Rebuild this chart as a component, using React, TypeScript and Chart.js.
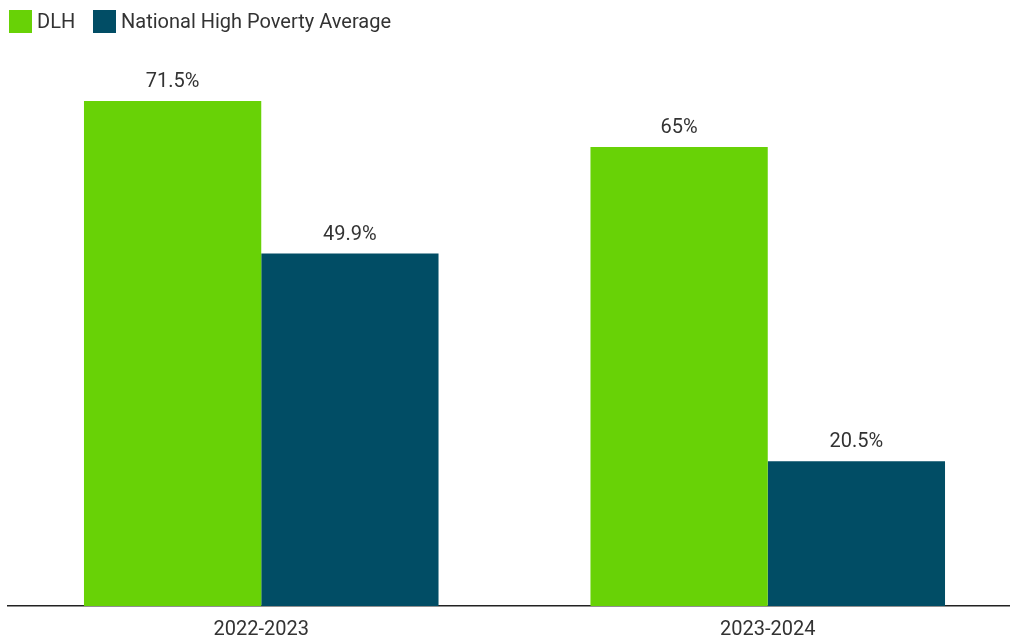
import React, { useEffect, useRef } from "react";
import { Chart, registerables } from "chart.js";

Chart.register(...registerables);

const categories = ["2022-2023", "2023-2024"];
const dlhValues = [71.5, 65];
const nationalValues = [49.9, 20.5];
const seriesNames = ["DLH", "National High Poverty Average"];
const seriesColors = ["#68D206", "#014D65"];
const FONT = "Roboto, 'Noto Sans', sans-serif";

const valueLabels = {
  id: "valueLabels",
  afterDatasetsDraw(chart: any) {
    const ctx = chart.ctx;
    ctx.save();
    ctx.font = `20px ${FONT}`;
    ctx.fillStyle = "#333333";
    ctx.textAlign = "center";
    ctx.textBaseline = "bottom";
    chart.data.datasets.forEach((ds: any, di: number) => {
      const meta = chart.getDatasetMeta(di);
      meta.data.forEach((bar: any, i: number) => {
        const v = ds.data[i];
        ctx.fillText(`${v}%`, bar.x, bar.y - 9);
      });
    });
    ctx.restore();
  },
};

export default function App() {
  const ref = useRef<HTMLCanvasElement>(null);
  useEffect(() => {
    document.body.style.margin = "0";
    document.body.style.overflow = "hidden";
    const chart = new Chart(ref.current!, {
      type: "bar",
      data: {
        labels: categories,
        datasets: [
          { label: seriesNames[0], data: dlhValues, backgroundColor: seriesColors[0] },
          { label: seriesNames[1], data: nationalValues, backgroundColor: seriesColors[1] },
        ],
      },
      options: {
        responsive: false,
        animation: false,
        layout: { padding: { top: 41, left: 8, right: 0, bottom: 2 } },
        datasets: { bar: { categoryPercentage: 0.7, barPercentage: 1.0 } },
        plugins: { legend: { display: false }, tooltip: { enabled: false } },
        scales: {
          x: {
            grid: { display: false, drawTicks: false },
            border: { display: true, color: "#222222", width: 1.5 },
            ticks: { color: "#333333", font: { family: FONT, size: 20 }, padding: 12 },
          },
          y: { display: false, min: 0, max: 80 },
        },
      },
      plugins: [valueLabels],
    });
    return () => chart.destroy();
  }, []);

  const legendItem = (i: number, left: number) => (
    <div
      key={i}
      style={{
        position: "absolute",
        left,
        top: 9,
        display: "flex",
        alignItems: "center",
        fontFamily: FONT,
        fontSize: 20,
        color: "#333333",
        whiteSpace: "nowrap",
      }}
    >
      <span style={{ width: 23, height: 23, background: seriesColors[i], display: "inline-block", marginRight: 5 }} />
      <span>{seriesNames[i]}</span>
    </div>
  );

  return (
    <div style={{ position: "relative", width: 1010, height: 639, overflow: "hidden" }}>
      <canvas ref={ref} width={1021} height={656} style={{ position: "absolute", left: 0, top: 0 }} />
      {legendItem(0, 9)}
      {legendItem(1, 93)}
    </div>
  );
}
